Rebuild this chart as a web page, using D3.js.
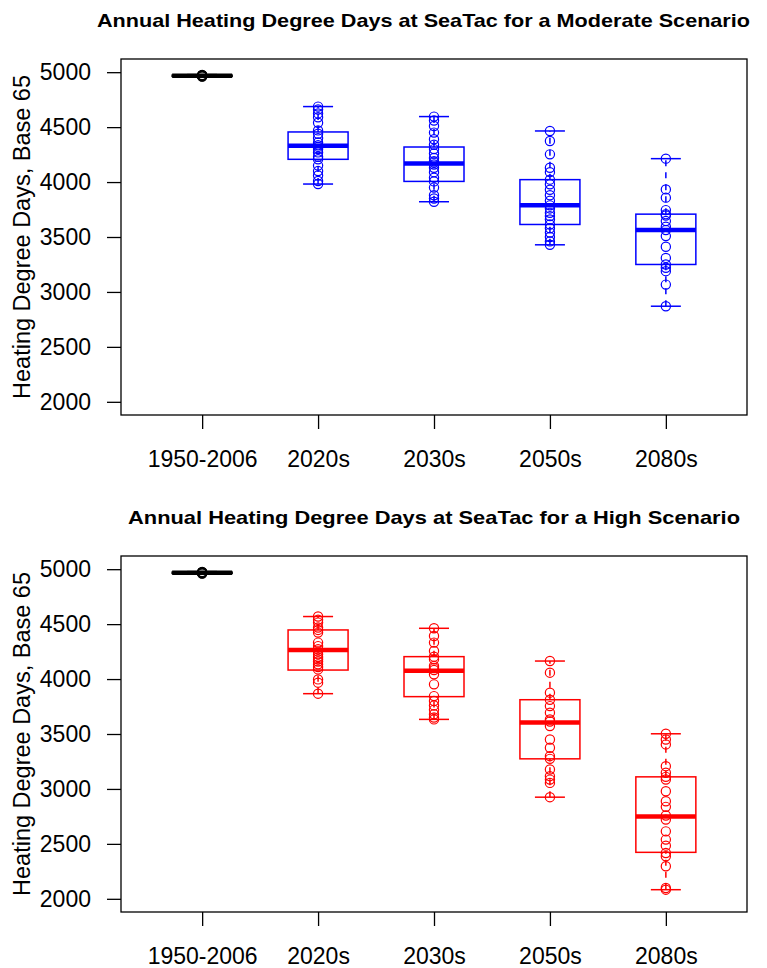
<!DOCTYPE html>
<html>
<head>
<meta charset="utf-8">
<script src="https://cdn.jsdelivr.net/npm/d3@7"></script>
<style>
  html, body { margin: 0; padding: 0; background: #fff; }
  svg { display: block; }
  text { font-family: "Liberation Sans", Arial, sans-serif; }
</style>
</head>
<body>
<svg id="chart" width="767" height="968"></svg>
<script>
// ---------------- data ----------------
const categories = ["1950-2006", "2020s", "2030s", "2050s", "2080s"];
const yTicks = [2000, 2500, 3000, 3500, 4000, 4500, 5000];
const titles = [
  "Annual Heating Degree Days at SeaTac for a Moderate Scenario",
  "Annual Heating Degree Days at SeaTac for a High Scenario"
];
const yLabel = "Heating Degree Days, Base 65";

// box stats: [lower whisker, Q1, median, Q3, upper whisker]
const moderateStats = [
  [4955, 4962, 4968, 4973, 4978],
  [3982, 4207, 4330, 4456, 4687],
  [3821, 4006, 4170, 4319, 4596],
  [3429, 3614, 3788, 4022, 4465],
  [2870, 3250, 3563, 3708, 4213]
];
const moderatePoints = [
  [4960, 4962, 4965, 4968, 4968, 4970, 4972, 4975],
  [4687, 4660, 4625, 4590, 4540, 4470, 4440, 4400, 4360, 4335, 4320, 4300, 4270, 4230, 4207, 4150, 4100, 4060, 4010, 3982],
  [4596, 4560, 4510, 4450, 4390, 4340, 4300, 4260, 4220, 4190, 4177, 4160, 4130, 4090, 4040, 4006, 3950, 3880, 3850, 3821],
  [4465, 4374, 4252, 4130, 4090, 4022, 3980, 3930, 3880, 3830, 3788, 3760, 3720, 3690, 3660, 3614, 3580, 3540, 3500, 3460, 3429],
  [4213, 3933, 3858, 3745, 3708, 3696, 3645, 3594, 3563, 3508, 3411, 3310, 3250, 3220, 3189, 3067, 2870]
];
const highStats = [
  [4955, 4962, 4968, 4973, 4978],
  [3867, 4082, 4265, 4447, 4569],
  [3633, 3840, 4075, 4204, 4462],
  [2925, 3274, 3605, 3812, 4164],
  [2083, 2423, 2750, 3110, 3502]
];
const highPoints = [
  [4960, 4962, 4965, 4968, 4968, 4970, 4972, 4975],
  [4569, 4540, 4514, 4469, 4447, 4423, 4332, 4300, 4271, 4250, 4225, 4200, 4180, 4160, 4134, 4110, 4088, 3997, 3967, 3867],
  [4462, 4392, 4332, 4255, 4204, 4180, 4119, 4100, 4082, 4043, 3952, 3845, 3800, 3760, 3720, 3680, 3650, 3633],
  [4164, 4058, 3876, 3812, 3754, 3694, 3633, 3614, 3572, 3450, 3375, 3298, 3274, 3177, 3116, 3085, 3055, 2925],
  [3502, 3450, 3405, 3207, 3147, 3110, 3086, 2979, 2888, 2837, 2758, 2721, 2614, 2539, 2484, 2417, 2387, 2296, 2098, 2083]
];

// ---------------- drawing ----------------
const svg = d3.select("#chart");
svg.append("rect").attr("width", 767).attr("height", 968).attr("fill", "#fff");

const plotLeft = 121, plotRight = 747;
const x = d3.scaleLinear().domain([0.3, 5.7]).range([plotLeft, plotRight]);
const boxHalf = 30, capHalf = 15, r = 4.6;

function panel(offsetY, stats, points, color, title, titleX, titleLen) {
  const g = svg.append("g").attr("transform", `translate(0,${offsetY})`);
  const y = d3.scaleLinear().domain([1880, 5120]).range([415, 59]);
  const colorOf = i => (i === 0 ? "#000" : color);

  // title
  g.append("text")
    .attr("x", titleX).attr("y", 27)
    .attr("text-anchor", "middle")
    .attr("font-weight", "bold").attr("font-size", 19)
    .attr("textLength", titleLen).attr("lengthAdjust", "spacingAndGlyphs")
    .text(title);

  // y axis
  const yAxis = d3.axisLeft(y).tickValues(yTicks).tickSize(14).tickPadding(16)
    .tickFormat(d3.format("d"));
  const ya = g.append("g").attr("transform", `translate(${plotLeft},0)`).call(yAxis);
  ya.select(".domain").remove();
  ya.selectAll("text").attr("font-size", 23).attr("font-family", "Liberation Sans, Arial, sans-serif").attr("fill", "#000");
  ya.selectAll("line").attr("stroke", "#000").attr("stroke-width", 1.3);

  // x axis
  const xAxis = d3.axisBottom(x).tickValues(d3.range(1, categories.length + 1))
    .tickSize(14).tickPadding(22).tickFormat((d, i) => categories[i]);
  const xa = g.append("g").attr("transform", `translate(0,415)`).call(xAxis);
  xa.select(".domain").remove();
  xa.selectAll("text").attr("font-size", 23).attr("font-family", "Liberation Sans, Arial, sans-serif").attr("fill", "#000");
  xa.selectAll("line").attr("stroke", "#000").attr("stroke-width", 1.3);

  // y label
  g.append("text")
    .attr("transform", `translate(30,${(59 + 415) / 2}) rotate(-90)`)
    .attr("text-anchor", "middle")
    .attr("font-size", 23.5)
    .text(yLabel);

  // boxes
  stats.forEach((s, i) => {
    const cx = x(i + 1), c = colorOf(i);
    const bg = g.append("g").attr("stroke", c).attr("fill", "none");
    // whiskers (dashed)
    bg.append("line").attr("x1", cx).attr("x2", cx).attr("y1", y(s[0])).attr("y2", y(s[1]))
      .attr("stroke-width", 1.5).attr("stroke-dasharray", "6,6");
    bg.append("line").attr("x1", cx).attr("x2", cx).attr("y1", y(s[3])).attr("y2", y(s[4]))
      .attr("stroke-width", 1.5).attr("stroke-dasharray", "6,6");
    // caps
    [s[0], s[4]].forEach(v => {
      bg.append("line").attr("x1", cx - capHalf).attr("x2", cx + capHalf)
        .attr("y1", y(v)).attr("y2", y(v)).attr("stroke-width", 1.5);
    });
    // box
    bg.append("rect").attr("x", cx - boxHalf).attr("width", 2 * boxHalf)
      .attr("y", y(s[3])).attr("height", Math.max(0.5, y(s[1]) - y(s[3])))
      .attr("stroke-width", 1.5);
    // median
    bg.append("line").attr("x1", cx - boxHalf).attr("x2", cx + boxHalf)
      .attr("y1", y(s[2])).attr("y2", y(s[2])).attr("stroke-width", 4.5);
  });

  // points
  points.forEach((arr, i) => {
    g.append("g").selectAll("circle").data(arr).join("circle")
      .attr("cx", x(i + 1)).attr("cy", d => y(d)).attr("r", r)
      .attr("fill", "none").attr("stroke", colorOf(i)).attr("stroke-width", 1.2);
  });

  // plot frame
  g.append("rect").attr("x", plotLeft).attr("y", 59)
    .attr("width", plotRight - plotLeft).attr("height", 415 - 59)
    .attr("fill", "none").attr("stroke", "#000").attr("stroke-width", 1.3);
}

panel(0, moderateStats, moderatePoints, "#0000ff", titles[0], 423.5, 653);
panel(497, highStats, highPoints, "#ff0000", titles[1], 434, 612);
</script>
</body>
</html>
